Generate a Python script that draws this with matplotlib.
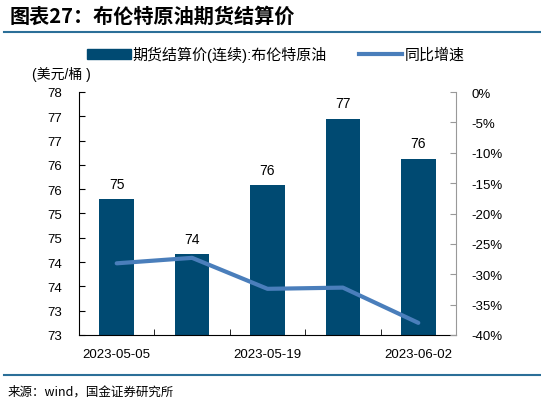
import numpy as np
import matplotlib
matplotlib.use("Agg")
import matplotlib.pyplot as plt
from matplotlib.ticker import FuncFormatter, FixedLocator
from matplotlib.lines import Line2D

plt.rcParams['font.family'] = ['Liberation Sans', 'Noto Sans CJK SC', 'DejaVu Sans']

dates = ["2023-05-05", "2023-05-12", "2023-05-19", "2023-05-26", "2023-06-02"]
price = [75.30, 74.17, 75.58, 76.95, 76.13]
yoy = [-28.2, -27.3, -32.4, -32.2, -38.0]
shown_labels = ["2023-05-05", "2023-05-19", "2023-06-02"]

bar_color = "#004A72"
line_color = "#4A7EBB"
rule_color = "#2B6F98"

W, H = 541, 406
fig = plt.figure(figsize=(W / 100, H / 100), dpi=100)
ax = fig.add_axes([79 / W, 1 - 336 / H, (456 - 79) / W, (336 - 93) / H])
x = np.arange(len(dates))

bars = ax.bar(x, price, width=0.46, color=bar_color, zorder=2)
ax.set_xlim(-0.5, len(dates) - 0.5)
ax.set_ylim(72.5, 77.5)
ax.yaxis.set_major_locator(FixedLocator(np.arange(72.5, 77.51, 0.5)))
ax.yaxis.set_major_formatter(FuncFormatter(lambda v, p: str(int(np.floor(v + 0.5)))))
for xi, v in zip(x, price):
    ax.annotate(str(int(np.floor(v + 0.5))), (xi, v), xytext=(0, 6), textcoords="offset points",
                ha="center", va="bottom", fontsize=10)

idx = [dates.index(d) for d in shown_labels]
ax.set_xticks(idx)
ax.set_xticklabels(shown_labels)
ax.set_xticks(np.arange(0.5, len(dates) - 1, 1.0), minor=True)
ax.tick_params(axis="x", which="major", length=0, pad=9.5, labelsize=9.5)
ax.tick_params(axis="x", which="minor", direction="in", length=4, color="black")
ax.tick_params(axis="y", direction="in", length=4, pad=12, labelsize=9.5)
for s in ["top", "right"]:
    ax.spines[s].set_visible(False)
ax.spines["left"].set_color("black")
ax.spines["bottom"].set_color("black")

ax2 = ax.twinx()
ax2.plot(x, yoy, color=line_color, lw=3, solid_capstyle="round", zorder=3)
ax2.set_ylim(-40, 0)
ax2.set_yticks(np.arange(-40, 0.1, 5))
ax2.yaxis.set_major_formatter(FuncFormatter(lambda v, p: f"{int(round(v))}%"))
ax2.tick_params(axis="y", direction="in", length=4, pad=11, labelsize=9.5, color="#999999")
for s in ["top", "left", "bottom"]:
    ax2.spines[s].set_visible(False)
ax2.spines["right"].set_color("#999999")

handles = [plt.Rectangle((0, 0), 1, 1, color=bar_color),
           Line2D([0], [0], color=line_color, lw=3)]
fig.legend(handles, ["期货结算价(连续):布伦特原油", "同比增速"], ncol=2, frameon=False,
           loc="center left", bbox_to_anchor=(87 / W, 1 - 55 / H), borderpad=0, borderaxespad=0,
           handlelength=2.9, handleheight=0.7, handletextpad=0.15, columnspacing=2.1,
           fontsize=10.8)

fig.text(32 / W, 1 - 75 / H, "(美元/桶 )", fontsize=10, va="center", ha="left")

fig.text(10 / W, 1 - 16 / H, "图表27：布伦特原油期货结算价", fontsize=14.5, fontweight="bold",
         style="italic", va="center", ha="left", family=["Noto Sans CJK SC", "DejaVu Sans"])
fig.add_artist(Line2D([4 / W, 1], [1 - 32.5 / H] * 2, color=rule_color, lw=1.5))
fig.add_artist(Line2D([4 / W, 1], [1 - 375.7 / H] * 2, color=rule_color, lw=1.5))
fig.text(8 / W, 1 - 392 / H, "来源：wind，国金证券研究所", fontsize=9, va="center", ha="left",
         family=["Noto Sans CJK SC", "DejaVu Sans"])

fig.savefig("out.png", dpi=100)
